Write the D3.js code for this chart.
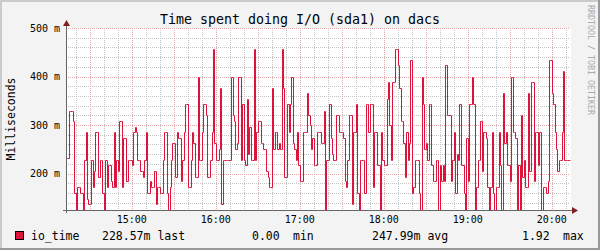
<!DOCTYPE html>
<html>
<head>
<meta charset="utf-8">
<script src="https://cdn.jsdelivr.net/npm/d3@7"></script>
<style>
  body { margin: 0; background: #f3f3f3; }
  svg { display: block; }
  text { font-family: "DejaVu Sans Mono", monospace; fill: #000; }
</style>
</head>
<body>
<script>
const title = "Time spent doing I/O (sda1) on dacs";
const yLabel = "Milliseconds";
const watermark = "RRDTOOL / TOBI OETIKER";
const startTime = new Date(2012, 0, 10, 14, 13);
const spanMinutes = 360;

// io_time in milliseconds, one value per minute
const ioTime = [
  232, 232, 330, 330, 330, 308, 160, 0, 172, 172,
  160, 160, 0, 229, 286, 148, 137, 137, 229, 172,
  206, 286, 286, 194, 229, 229, 160, 0, 229, 172,
  218, 218, 184, 172, 286, 172, 229, 206, 308, 308,
  172, 273, 273, 184, 229, 229, 229, 218, 286, 297,
  286, 229, 229, 206, 206, 194, 229, 286, 160, 160,
  184, 172, 172, 206, 137, 172, 172, 160, 160, 229,
  286, 286, 160, 0, 172, 229, 263, 263, 194, 286,
  273, 273, 184, 229, 286, 343, 343, 172, 172, 229,
  286, 263, 194, 194, 399, 229, 229, 286, 343, 343,
  321, 194, 194, 229, 286, 457, 263, 229, 229, 251,
  376, 137, 229, 229, 229, 229, 229, 229, 399, 321,
  308, 251, 263, 399, 399, 229, 343, 229, 218, 354,
  240, 297, 229, 229, 457, 229, 286, 308, 308, 263,
  263, 251, 251, 206, 194, 172, 172, 376, 251, 286,
  286, 251, 263, 251, 457, 376, 194, 194, 343, 286,
  343, 399, 263, 251, 229, 286, 218, 184, 184, 286,
  286, 286, 366, 321, 300, 251, 273, 218, 218, 286,
  286, 286, 263, 263, 330, 0, 229, 229, 343, 273,
  240, 229, 229, 321, 321, 286, 286, 286, 273, 184,
  172, 229, 321, 321, 137, 286, 286, 343, 160, 0,
  229, 229, 229, 160, 343, 343, 286, 343, 343, 172,
  286, 286, 218, 218, 0, 286, 229, 218, 218, 354,
  389, 301, 229, 389, 389, 457, 457, 423, 376, 308,
  308, 263, 194, 286, 229, 263, 435, 160, 172, 229,
  229, 229, 160, 0, 399, 343, 251, 263, 229, 343,
  343, 218, 184, 184, 229, 229, 0, 218, 184, 218,
  184, 423, 321, 321, 321, 184, 229, 286, 160, 240,
  229, 343, 218, 218, 160, 0, 273, 184, 343, 343,
  399, 343, 0, 172, 229, 229, 308, 206, 286, 286,
  273, 172, 0, 172, 286, 160, 0, 172, 172, 286,
  218, 0, 366, 263, 286, 218, 218, 184, 399, 286,
  286, 273, 0, 218, 0, 321, 194, 229, 172, 172,
  366, 206, 389, 389, 184, 286, 286, 218, 286, 0,
  0, 172, 172, 160, 184, 435, 435, 366, 343, 286,
  251, 206, 229, 229, 286, 411, 229, 229, 229, 229
];

const yTicks = [200, 300, 400, 500];
const yMinorTicks = d3.range(140, 501, 20);
const legendName = "io_time";
const legendStats = ["228.57m last", "0.00", "min", "247.99m avg", "1.92", "max"];

const lineColor = "#dc143c";

function drawFrame(svg) {
  svg.append("rect").attr("width", 600).attr("height", 250).attr("fill", "#f3f3f3");
  svg.append("rect").attr("x", 0).attr("y", 0).attr("width", 600).attr("height", 2).attr("fill", "#cbcbcb");
  svg.append("rect").attr("x", 0).attr("y", 0).attr("width", 2).attr("height", 250).attr("fill", "#cbcbcb");
  svg.append("rect").attr("x", 0).attr("y", 248).attr("width", 600).attr("height", 2).attr("fill", "#999");
  svg.append("rect").attr("x", 598).attr("y", 0).attr("width", 2).attr("height", 250).attr("fill", "#999");
}

function drawGrid(svg, x, y, endTime) {
  let g = svg.append("g").attr("shape-rendering", "crispEdges");
  let [x0, x1] = x.range();
  let [y0, y1] = y.range();

  let minorTimes = d3.timeMinute.every(10).range(startTime, endTime)
    .filter(t => t.getMinutes() % 30 != 0);
  let majorTimes = d3.timeMinute.every(30).range(startTime, endTime);

  g.selectAll(".vminor").data(minorTimes).enter().append("line")
    .attr("x1", d => Math.round(x(d)) + 0.5).attr("x2", d => Math.round(x(d)) + 0.5)
    .attr("y1", y1).attr("y2", y0)
    .attr("stroke", "#c4c4c4").attr("stroke-dasharray", "1,1");

  g.selectAll(".hminor").data(yMinorTicks.filter(v => v % 100 != 0)).enter().append("line")
    .attr("y1", d => Math.round(y(d)) + 0.5).attr("y2", d => Math.round(y(d)) + 0.5)
    .attr("x1", x0).attr("x2", x1)
    .attr("stroke", "#c4c4c4").attr("stroke-dasharray", "1,1");

  g.selectAll(".vmajor").data(majorTimes).enter().append("line")
    .attr("x1", d => Math.round(x(d)) + 0.5).attr("x2", d => Math.round(x(d)) + 0.5)
    .attr("y1", y1).attr("y2", y0)
    .attr("stroke", "#e0a8a8").attr("stroke-dasharray", "1,1");

  g.selectAll(".hmajor").data(yTicks).enter().append("line")
    .attr("y1", d => Math.round(y(d)) + 0.5).attr("y2", d => Math.round(y(d)) + 0.5)
    .attr("x1", x0).attr("x2", x1)
    .attr("stroke", "#e0a8a8").attr("stroke-dasharray", "1,1");
}

function drawLine(svg, x, y, data) {
  let [x0, x1] = x.range();
  let [y0, y1] = y.range();
  svg.append("clipPath").attr("id", "plotclip")
    .append("rect").attr("x", x0).attr("y", y1 - 1).attr("width", x1 - x0 + 1).attr("height", y0 - y1 + 1);

  // snap to pixel centres so the 1px step line stays crisp, as rrdtool draws it
  let line = d3.line()
    .x(d => Math.round(x(d.t)) + 0.5)
    .y(d => Math.round(Math.max(y(d.v), y1 - 3)) + 0.5)
    .curve(d3.curveStepAfter);

  svg.append("path")
    .datum(data)
    .attr("clip-path", "url(#plotclip)")
    .attr("fill", "none")
    .attr("stroke", lineColor)
    .attr("stroke-width", 1)
    .attr("d", line);
}

function drawAxes(svg, x, y, endTime) {
  let [x0, x1] = x.range();
  let [y0, y1] = y.range();
  let ax = svg.append("g").attr("shape-rendering", "crispEdges");
  ax.append("line").attr("x1", x0 - 3).attr("x2", x1 + 2).attr("y1", y0 + 0.5).attr("y2", y0 + 0.5)
    .attr("stroke", "#666");
  ax.append("line").attr("x1", x0 + 0.5).attr("x2", x0 + 0.5).attr("y1", y0 + 3).attr("y2", y1 - 4)
    .attr("stroke", "#666");

  // arrows
  svg.append("path")
    .attr("d", `M${x0 + 0.5},${y1 - 8} L${x0 - 3},${y1 - 2} L${x0 + 4},${y1 - 2} Z`)
    .attr("fill", "#7f1f1f");
  svg.append("path")
    .attr("d", `M${x1 + 8},${y0 + 0.5} L${x1 + 2},${y0 - 3} L${x1 + 2},${y0 + 4} Z`)
    .attr("fill", "#7f1f1f");

  svg.selectAll(".ylab").data(yTicks).enter().append("text")
    .attr("x", x0 - 6)
    .attr("y", d => y(d) + 3.5)
    .attr("text-anchor", "end")
    .style("font-size", "10px")
    .text(d => d + " m");

  let hours = d3.timeHour.every(1).range(startTime, endTime);
  svg.selectAll(".xlab").data(hours).enter().append("text")
    .attr("x", d => x(d))
    .attr("y", y0 + 13)
    .attr("text-anchor", "middle")
    .style("font-size", "10px")
    .text(d => d3.timeFormat("%H:%M")(d));
}

function drawTexts(svg) {
  svg.append("text")
    .attr("x", 300).attr("y", 24)
    .attr("text-anchor", "middle")
    .style("font-size", "13.3px")
    .text(title);

  svg.append("text")
    .attr("transform", "translate(15,119) rotate(-90)")
    .attr("text-anchor", "middle")
    .style("font-size", "11.5px")
    .text(yLabel);

  svg.append("text")
    .attr("transform", "translate(588,5) rotate(90)")
    .attr("text-anchor", "start")
    .style("font-size", "8.3px")
    .style("fill", "#aaa")
    .text(watermark);
}

function drawLegend(svg) {
  svg.append("rect")
    .attr("x", 15.5).attr("y", 231.5).attr("width", 8).attr("height", 8)
    .attr("fill", lineColor).attr("stroke", "#000");

  let xs = [102, 252, 293, 372, 522, 563];
  svg.append("text").attr("x", 31).attr("y", 240).style("font-size", "11.5px").text(legendName);
  svg.selectAll(".leg").data(legendStats).enter().append("text")
    .attr("x", (d, i) => xs[i])
    .attr("y", 240)
    .style("font-size", "11.5px")
    .text(d => d);
}

function main() {
  let svg = d3.select("body").append("svg")
    .attr("width", 600)
    .attr("height", 250);

  let endTime = d3.timeMinute.offset(startTime, spanMinutes);
  let x = d3.scaleTime().domain([startTime, endTime]).range([66, 570]);
  let y = d3.scaleLinear().domain([125, 500]).range([210, 28]);

  let data = ioTime.map((v, i) => ({ t: d3.timeMinute.offset(startTime, i), v: v }));
  data.push({ t: endTime, v: ioTime[ioTime.length - 1] });

  drawFrame(svg);
  svg.append("rect").attr("x", 66).attr("y", 28).attr("width", 505).attr("height", 182).attr("fill", "#fff");
  drawGrid(svg, x, y, endTime);
  drawLine(svg, x, y, data);
  drawAxes(svg, x, y, endTime);
  drawTexts(svg);
  drawLegend(svg);
}

main();
</script>
</body>
</html>
